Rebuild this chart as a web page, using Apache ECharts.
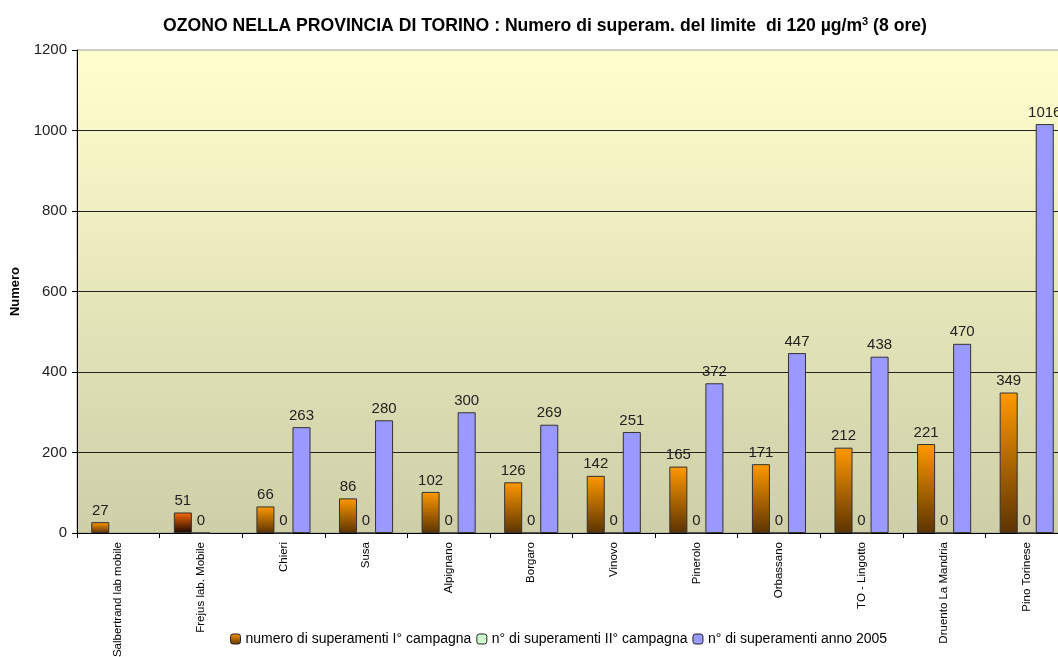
<!DOCTYPE html>
<html>
<head>
<meta charset="utf-8">
<script src="https://cdn.jsdelivr.net/npm/echarts@6/dist/echarts.min.js"></script>
<style>
  html, body { margin: 0; padding: 0; background: #fff; }
  #chart { width: 1058px; height: 657px; }
</style>
</head>
<body>
<div id="chart"></div>
<script>
// Stazioni di misura
const stations = [
  'Salbertrand lab mobile', 'Frejus lab. Mobile', 'Chieri', 'Susa', 'Alpignano',
  'Borgaro', 'Vinovo', 'Pinerolo', 'Orbassano', 'TO - Lingotto',
  'Druento La Mandria', 'Pino Torinese'
];
// Superamenti I° campagna
const campagna1 = [27, 51, 66, 86, 102, 126, 142, 165, 171, 212, 221, 349];
// Superamenti II° campagna
const campagna2 = [null, 0, 0, 0, 0, 0, 0, 0, 0, 0, 0, 0];
// Superamenti anno 2005
const anno2005 = [null, null, 263, 280, 300, 269, 251, 372, 447, 438, 470, 1016];

const seriesNames = [
  'numero di superamenti I° campagna',
  'n° di superamenti II° campagna',
  'n° di superamenti anno 2005'
];
const yTicks = { min: 0, max: 1200, interval: 200 };

const FONT = '"Liberation Sans", Arial, sans-serif';
const grad = (top, bottom) => new echarts.graphic.LinearGradient(0, 0, 0, 1, [
  { offset: 0, color: top }, { offset: 1, color: bottom }
]);

const orangeFill = grad('#FF9900', '#5C3300');
const frejusFill = grad('#FF6A00', '#1A0500');

const labelStyle = {
  show: true, position: 'top', distance: 4,
  color: '#222', fontSize: 15, fontFamily: FONT
};

const chart = echarts.init(document.getElementById('chart'), null, { renderer: 'canvas' });
chart.setOption({
  animation: false,
  backgroundColor: '#fff',
  title: {
    text: 'OZONO NELLA PROVINCIA DI TORINO : Numero di superam. del limite  di 120 µg/m{sup|3} (8 ore)',
    left: 540, textAlign: 'center', top: 11,
    textStyle: {
      fontFamily: FONT, fontSize: 17.6, fontWeight: 'bold', color: '#000',
      rich: { sup: { fontFamily: FONT, fontSize: 11, fontWeight: 'bold', color: '#000', verticalAlign: 'top', padding: [0, 0, 9, 0] } }
    }
  },
  legend: {
    data: seriesNames,
    left: 225, top: 627,
    itemWidth: 10, itemHeight: 10, itemGap: 5,
    textStyle: { fontFamily: FONT, fontSize: 14, color: '#000' },
    itemStyle: { borderColor: '#222', borderWidth: 1 }
  },
  grid: {
    left: 77, width: 991, top: 50, height: 483,
    outerBoundsMode: 'none',
    show: true,
    backgroundColor: grad('#FFFFCE', '#CECEA8'),
    borderColor: '#999', borderWidth: 1
  },
  xAxis: {
    type: 'category',
    data: stations,
    axisLine: { lineStyle: { color: '#000', width: 1 } },
    axisTick: { show: true, length: 5, lineStyle: { color: '#000' } },
    axisLabel: {
      interval: 0, rotate: 90, margin: 9,
      fontFamily: FONT, fontSize: 11.5, color: '#000'
    }
  },
  yAxis: {
    type: 'value',
    min: yTicks.min, max: yTicks.max, interval: yTicks.interval,
    name: 'Numero', nameLocation: 'middle', nameGap: 55, nameRotate: 90,
    nameTextStyle: { fontFamily: FONT, fontSize: 13, fontWeight: 'bold', color: '#000' },
    axisLine: { show: true, lineStyle: { color: '#000', width: 1 } },
    axisTick: { show: true, length: 5, lineStyle: { color: '#000' } },
    axisLabel: { fontFamily: FONT, fontSize: 15, color: '#222', margin: 10, formatter: v => String(v) },
    splitLine: { show: true, showMaxLine: false, lineStyle: { color: '#222', width: 1 } }
  },
  series: [
    {
      name: seriesNames[0], type: 'bar',
      barGap: '0%', barCategoryGap: '34.5%',
      data: campagna1.map((v, i) => i === 1
        ? { value: v, itemStyle: { color: frejusFill } }
        : v),
      itemStyle: { color: orangeFill, borderColor: '#333', borderWidth: 1 },
      label: labelStyle
    },
    {
      name: seriesNames[1], type: 'bar',
      data: campagna2,
      itemStyle: { color: '#CCFFCC', borderColor: '#333', borderWidth: 1 },
      label: labelStyle
    },
    {
      name: seriesNames[2], type: 'bar',
      data: anno2005,
      itemStyle: { color: '#9999FF', borderColor: '#333', borderWidth: 1 },
      label: labelStyle
    }
  ]
});
</script>
</body>
</html>
